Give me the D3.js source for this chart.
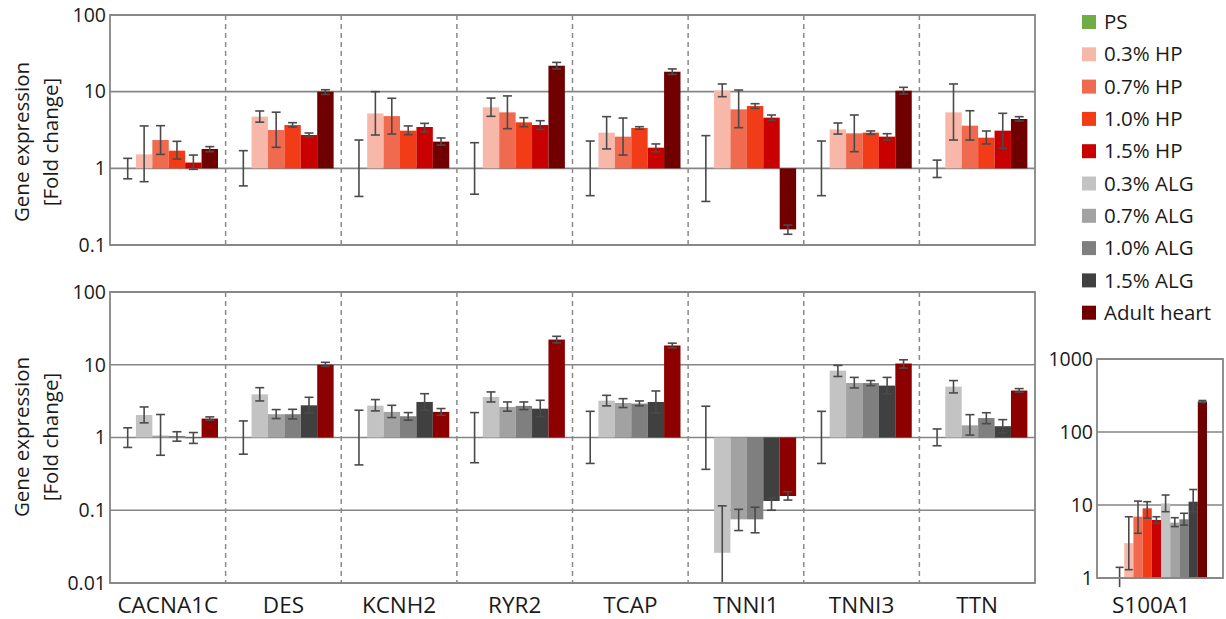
<!DOCTYPE html>
<html>
<head>
<meta charset="utf-8">
<script src="https://cdn.jsdelivr.net/npm/d3@7"></script>
<style>
  body { margin: 0; background: #fff; }
  svg { font-family: "Open Sans", sans-serif; }
</style>
</head>
<body>
<div id="chart"></div>
<script>
// Genes on the x axis of the two main panels
var genes = ["CACNA1C", "DES", "KCNH2", "RYR2", "TCAP", "TNNI1", "TNNI3", "TTN"];

// Series names (legend order) and colours
var seriesNames = ["PS", "0.3% HP", "0.7% HP", "1.0% HP", "1.5% HP",
  "0.3% ALG", "0.7% ALG", "1.0% ALG", "1.5% ALG", "Adult heart"];
var seriesColors = ["#70ad47", "#f8b8a9", "#ef6a4f", "#f23c18", "#c80000",
  "#c3c3c3", "#a2a2a2", "#7f7f7f", "#404040", "#700000"];

var hpSeries = ["PS", "0.3% HP", "0.7% HP", "1.0% HP", "1.5% HP", "Adult heart"];
var algSeries = ["PS", "0.3% ALG", "0.7% ALG", "1.0% ALG", "1.5% ALG", "Adult heart"];

// Each entry: [mean, lower error, upper error] per gene
// top panel (HP)
var topPS    = [[1,0.73,1.35],[1,0.59,1.70],[1,0.43,2.34],[1,0.46,2.16],[1,0.44,2.27],[1,0.37,2.67],[1,0.44,2.27],[1,0.76,1.28]];
var topHP03  = [[1.52,0.67,3.57],[4.72,4.0,5.6],[5.2,2.72,10],[6.25,4.77,8.25],[2.92,1.79,4.72],[10.3,8.6,12.6],[3.22,2.8,3.9],[5.37,2.34,12.6]];
var topHP07  = [[2.34,1.52,3.6],[3.16,1.88,5.4],[4.8,2.8,8.2],[5.37,3.29,8.8],[2.59,1.49,4.53],[5.88,3.39,10.5],[2.86,1.65,4.96],[3.6,2.34,5.64]];
var topHP10  = [[1.70,1.32,2.25],[3.67,3.46,3.94],[3.1,2.75,3.57],[3.98,3.49,4.58],[3.36,3.23,3.49],[6.5,6.05,6.97],[2.92,2.78,3.07],[2.51,2.08,3.07]];
var topHP15  = [[1.19,0.97,1.49],[2.72,2.56,2.89],[3.46,3.0,3.86],[3.67,3.22,4.18],[1.86,1.65,2.08],[4.58,4.23,4.96],[2.59,2.34,2.83],[3.1,1.82,5.22]];
var topAdult = [[1.79,1.65,1.92],[10.0,9.2,10.6],[2.23,2.01,2.49],[21.8,19.8,24.1],[18.2,16.8,19.8],[0.16,0.138,0.182],[10.3,9.3,11.4],[4.4,4.14,4.72]];

// bottom panel (ALG)
var botPS    = [[1,0.73,1.36],[1,0.59,1.69],[1,0.42,2.37],[1,0.45,2.2],[1,0.44,2.29],[1,0.365,2.69],[1,0.44,2.29],[1,0.77,1.31]];
var botALG03 = [[2.04,1.59,2.63],[3.92,3.18,4.84],[2.74,2.32,3.32],[3.6,3.08,4.23],[3.21,2.72,3.8],[0.026,0.005,0.115],[8.3,6.9,9.8],[5.0,4.1,6.06]];
var botALG07 = [[1.06,0.57,2.07],[2.09,1.82,2.42],[2.25,1.88,2.77],[2.63,2.3,3.08],[2.98,2.58,3.42],[0.075,0.0526,0.103],[5.62,4.8,6.7],[1.47,1.08,2.06]];
var botALG10 = [[1.05,0.89,1.2],[2.09,1.8,2.44],[1.96,1.73,2.2],[2.72,2.42,3.08],[2.92,2.72,3.18],[0.075,0.049,0.11],[5.6,5.17,6.06],[1.85,1.55,2.19]];
var botALG15 = [[0.98,0.83,1.17],[2.77,2.18,3.57],[3.08,2.37,4.0],[2.49,1.92,3.25],[3.08,2.18,4.36],[0.134,0.1,0.146],[5.17,3.98,6.7],[1.43,1.16,1.76]];
var botAdult = [[1.82,1.73,1.92],[10,9.5,10.8],[2.25,2.02,2.5],[22.2,20,24.6],[18.4,17.1,19.8],[0.157,0.138,0.18],[10.4,9.0,11.7],[4.42,4.19,4.7]];

// S100A1 panel, one entry per series (legend order)
var s100a1 = [[1,0.75,1.4],[3.0,1.3,6.9],[6.93,4.1,11.3],[9.0,6.6,11.1],[6.23,5.6,6.9],
  [10.5,8.1,13.7],[5.74,5.06,6.7],[6.37,5.3,7.7],[11.1,8.1,16.3],[262,254,270]];

// Tick labels
var topTicks = [100, 10, 1, 0.1];
var botTicks = [100, 10, 1, 0.1, 0.01];
var s100Ticks = [1000, 100, 10, 1];

var width = 1226, height = 619;
var gridColor = "#858585";
var errColor = "#4a4a4a";
var textColor = "#1a1a1a";

var svg = d3.select("#chart")
  .append("svg")
  .attr("width", width)
  .attr("height", height);

var color = d3.scaleOrdinal(seriesNames, seriesColors);

function fmt(v) {
  return v >= 1 ? d3.format("d")(v) : String(v);
}

// Draw one log panel with bars growing from 1
function drawPanel(opts) {
  var g = svg.append("g");
  var y = d3.scaleLog().domain(opts.domain).range([opts.bottom, opts.top]);
  var x = opts.x;

  var clipId = "clip" + opts.id;
  svg.append("clipPath").attr("id", clipId)
    .append("rect")
    .attr("x", opts.left).attr("y", opts.top)
    .attr("width", opts.right - opts.left)
    .attr("height", opts.bottom - opts.top);

  // horizontal grid lines
  g.selectAll("line.grid")
    .data(opts.ticks)
    .enter()
    .append("line")
    .attr("x1", opts.left).attr("x2", opts.right)
    .attr("y1", function (d) { return y(d); })
    .attr("y2", function (d) { return y(d); })
    .style("stroke", gridColor)
    .style("stroke-width", 1.6);

  // y tick labels
  g.selectAll("text.tick")
    .data(opts.ticks)
    .enter()
    .append("text")
    .attr("x", opts.left - 4)
    .attr("y", function (d) { return y(d); })
    .attr("dy", "0.35em")
    .attr("text-anchor", "end")
    .style("font-size", "19.5px")
    .style("fill", textColor)
    .text(fmt);

  // dashed separators between genes
  if (opts.separators) {
    g.selectAll("line.sep")
      .data(opts.separators)
      .enter()
      .append("line")
      .attr("x1", function (d) { return d; })
      .attr("x2", function (d) { return d; })
      .attr("y1", opts.top).attr("y2", opts.bottom)
      .style("stroke", "#8a8a8a")
      .style("stroke-width", 1.5)
      .style("stroke-dasharray", "5,4");
  }

  var marks = g.append("g").attr("clip-path", opts.clip ? "url(#" + clipId + ")" : null);

  // bars
  marks.selectAll("rect")
    .data(opts.data.filter(function (d) { return d.mean !== 1; }))
    .enter()
    .append("rect")
    .attr("x", function (d) { return x(d); })
    .attr("width", opts.barWidth)
    .attr("y", function (d) { return Math.min(y(d.mean), y(1)); })
    .attr("height", function (d) { return Math.abs(y(d.mean) - y(1)); })
    .style("fill", function (d) { return d.color || color(d.series); });

  // error bars
  var err = marks.selectAll("g.err")
    .data(opts.data)
    .enter()
    .append("g")
    .style("stroke", errColor)
    .style("stroke-width", 1.6);
  var half = opts.capWidth / 2;
  err.append("line")
    .attr("x1", function (d) { return x(d) + opts.barWidth / 2; })
    .attr("x2", function (d) { return x(d) + opts.barWidth / 2; })
    .attr("y1", function (d) { return y(d.lo); })
    .attr("y2", function (d) { return y(d.hi); });
  err.append("line")
    .attr("x1", function (d) { return x(d) + opts.barWidth / 2 - half; })
    .attr("x2", function (d) { return x(d) + opts.barWidth / 2 + half; })
    .attr("y1", function (d) { return y(d.hi); })
    .attr("y2", function (d) { return y(d.hi); });
  err.filter(function (d) { return d.lo > opts.domain[0]; })
    .append("line")
    .attr("x1", function (d) { return x(d) + opts.barWidth / 2 - half; })
    .attr("x2", function (d) { return x(d) + opts.barWidth / 2 + half; })
    .attr("y1", function (d) { return y(d.lo); })
    .attr("y2", function (d) { return y(d.lo); });

  // frame
  g.append("rect")
    .attr("x", opts.left).attr("y", opts.top)
    .attr("width", opts.right - opts.left)
    .attr("height", opts.bottom - opts.top)
    .style("fill", "none")
    .style("stroke", gridColor)
    .style("stroke-width", 1.8);

  return y;
}

// Group and slot scales for the gene panels
var groupX = d3.scaleBand(genes, [110, 1035]);
var slotX = d3.scaleBand(d3.range(6), [9.5, 108]);
var separators = genes.slice(1).map(function (d) { return groupX(d); });

function buildRows(seriesList, arrays, adultColor) {
  var rows = [];
  arrays.forEach(function (arr, si) {
    arr.forEach(function (v, gi) {
      rows.push({
        gene: genes[gi], series: seriesList[si], slot: si,
        mean: v[0], lo: v[1], hi: v[2],
        color: seriesList[si] === "Adult heart" ? adultColor : null
      });
    });
  });
  return rows;
}

var topRows = buildRows(hpSeries, [topPS, topHP03, topHP07, topHP10, topHP15, topAdult], "#700000");
var botRows = buildRows(algSeries, [botPS, botALG03, botALG07, botALG10, botALG15, botAdult], "#8c0000");

function geneX(d) { return groupX(d.gene) + slotX(d.slot); }

drawPanel({
  id: "top", data: topRows, domain: [0.1, 100], ticks: topTicks,
  left: 110, right: 1035, top: 15, bottom: 245,
  x: geneX, barWidth: slotX.bandwidth(), capWidth: 9,
  separators: separators, clip: true
});

drawPanel({
  id: "bot", data: botRows, domain: [0.01, 100], ticks: botTicks,
  left: 110, right: 1035, top: 292, bottom: 583,
  x: geneX, barWidth: slotX.bandwidth(), capWidth: 9,
  separators: separators, clip: true
});

// S100A1 panel uses all ten series
var s100X = d3.scaleBand(seriesNames, [1115, 1207]);
var s100Rows = s100a1.map(function (v, i) {
  return { series: seriesNames[i], mean: v[0], lo: v[1], hi: v[2] };
});
drawPanel({
  id: "s100", data: s100Rows, domain: [1, 1000], ticks: s100Ticks,
  left: 1097, right: 1223, top: 359, bottom: 578,
  x: function (d) { return s100X(d.series); }, barWidth: s100X.bandwidth(), capWidth: 8,
  separators: null, clip: false
});

// gene labels
svg.selectAll("text.gene")
  .data(genes)
  .enter()
  .append("text")
  .attr("x", function (d) { return groupX(d) + groupX.bandwidth() / 2; })
  .attr("y", 613)
  .attr("text-anchor", "middle")
  .style("font-size", "22.5px")
  .style("fill", textColor)
  .text(function (d) { return d; });

svg.append("text")
  .attr("x", 1151).attr("y", 613)
  .attr("text-anchor", "middle")
  .style("font-size", "22.5px")
  .style("fill", textColor)
  .text("S100A1");

// y axis titles (two lines, rotated)
[142, 437].forEach(function (cy) {
  var t = svg.append("text")
    .attr("transform", "translate(29," + cy + ") rotate(-90)")
    .attr("text-anchor", "middle")
    .style("font-size", "20.5px")
    .style("fill", textColor);
  t.append("tspan").attr("x", 0).attr("y", 0).text("Gene expression");
  t.append("tspan").attr("x", 0).attr("y", 29).text("[Fold change]");
});

// legend
var legend = svg.selectAll("g.legend")
  .data(seriesNames)
  .enter()
  .append("g")
  .attr("transform", function (d, i) { return "translate(1082," + (22 + i * 32.3) + ")"; });
legend.append("rect")
  .attr("x", 0).attr("y", -7)
  .attr("width", 14).attr("height", 14)
  .style("fill", function (d) { return color(d); });
legend.append("text")
  .attr("x", 22).attr("y", 0)
  .attr("dy", "0.35em")
  .style("font-size", "20.5px")
  .style("fill", textColor)
  .text(function (d) { return d; });
</script>
</body>
</html>
